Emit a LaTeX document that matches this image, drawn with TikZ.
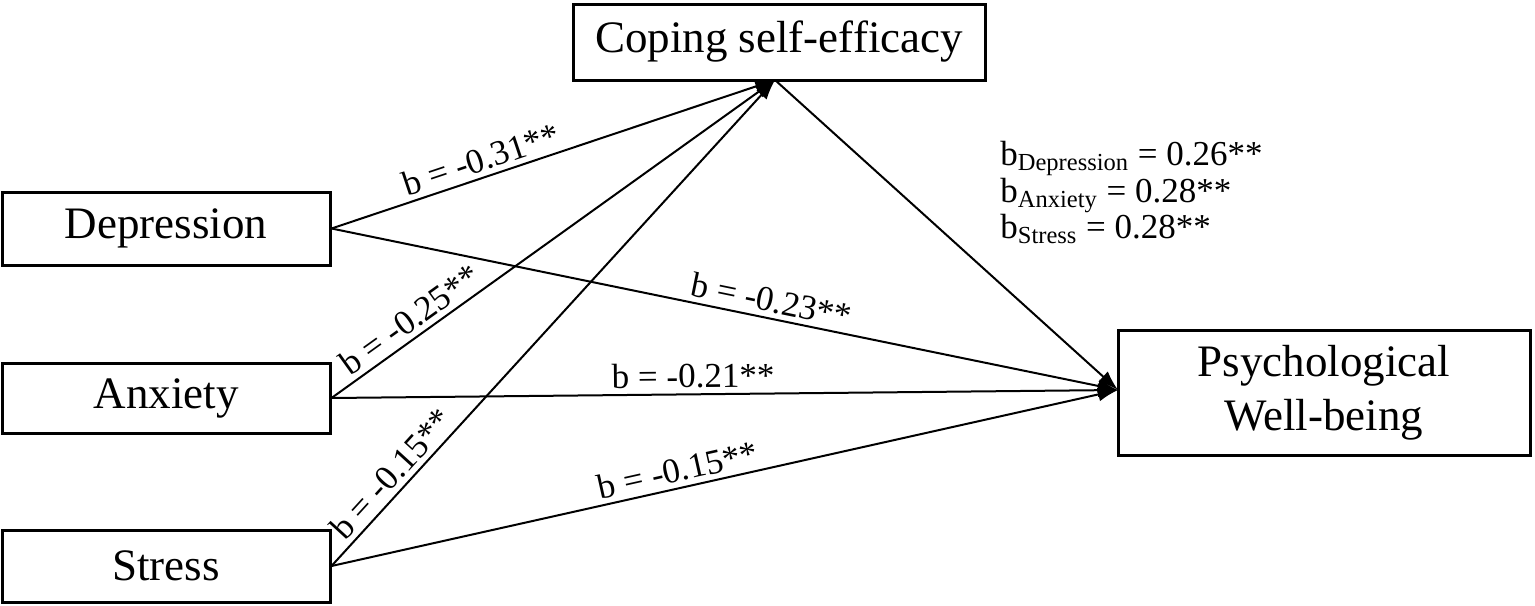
\documentclass[tikz,border=0pt]{standalone}
\usepackage{fontspec}
\setmainfont{Liberation Serif}
\usetikzlibrary{arrows.meta}
\begin{document}
\begin{tikzpicture}[x=0.5pt,y=-0.5pt,
  box/.style={draw,line width=1.5pt,inner sep=0pt,align=center,font=\fontsize{22.5}{27}\selectfont},
  conn/.style={line width=1pt,-{Latex[length=10pt,width=7pt]}},
  coef/.style={sloped,above,inner sep=2.5pt,font=\fontsize{17.5}{20}\selectfont},
  txt/.style={inner sep=0pt,anchor=base west,font=\fontsize{17.5}{20}\selectfont}]
\useasboundingbox (0,0) rectangle (1535,605);
\node[box,minimum width=206pt,minimum height=38pt] (cop) at (779,42) {Coping self-efficacy};
\node[box,minimum width=164pt,minimum height=36.5pt] (dep) at (166,228.5) {Depression};
\node[box,minimum width=164pt,minimum height=35pt] (anx) at (166,398) {Anxiety};
\node[box,minimum width=164pt,minimum height=36pt] (str) at (166,566) {Stress};
\node[box,minimum width=206pt,minimum height=62.5pt] (psy) at (1324,392.5) {Psychological\\Well-being};
\coordinate (ctip) at (775,80);
\coordinate (ptip) at (1118,390);
\draw[conn] (dep.east) -- node[coef,pos=0.35] (l1) {b = -0.31**} (ctip);
\draw[conn] (anx.east) -- node[coef,pos=0.2] (l2) {b = -0.25**} (ctip);
\draw[conn] (str.east) -- node[coef,pos=0.165] (l3) {b = -0.15**} (ctip);
\draw[conn] (dep.east) -- node[coef,pos=0.555] (l4) {b = -0.23**} (ptip);
\draw[conn] (anx.east) -- node[coef,pos=0.46] (l5) {b = -0.21**} (ptip);
\draw[conn] (str.east) -- node[coef,pos=0.445] (l6) {b = -0.15**} (ptip);
\draw[conn] (ctip) -- (ptip);
\node[txt] (m1) at (1000,165) {b\textsubscript{Depression} = 0.26**};
\node[txt] (m2) at (1000,202) {b\textsubscript{Anxiety} = 0.28**};
\node[txt] (m3) at (1000,238) {b\textsubscript{Stress} = 0.28**};
\end{tikzpicture}
\end{document}
